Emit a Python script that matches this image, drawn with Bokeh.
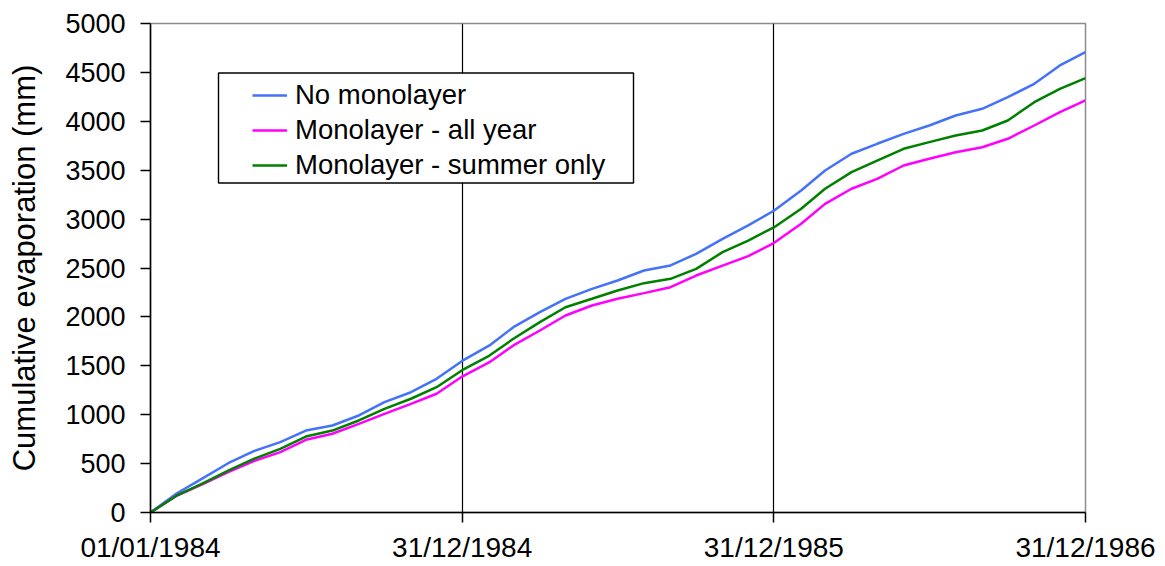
import pandas as pd
from bokeh.plotting import figure
from bokeh.models import (Range1d, FixedTicker, DatetimeTickFormatter, Legend, LegendItem,
                          BoxAnnotation)
from bokeh.embed import file_html
from bokeh.resources import INLINE

# ---- data (monthly) ----
dates = ["1984-01-01", "1984-02-01", "1984-03-01", "1984-04-01", "1984-05-01", "1984-06-01",
         "1984-07-01", "1984-08-01", "1984-09-01", "1984-10-01", "1984-11-01", "1984-12-01",
         "1984-12-31", "1985-02-01", "1985-03-01", "1985-04-01", "1985-05-01", "1985-06-01",
         "1985-07-01", "1985-08-01", "1985-09-01", "1985-10-01", "1985-11-01", "1985-12-01",
         "1985-12-31", "1986-02-01", "1986-03-01", "1986-04-01", "1986-05-01", "1986-06-01",
         "1986-07-01", "1986-08-01", "1986-09-01", "1986-10-01", "1986-11-01", "1986-12-01",
         "1986-12-31"]
no_monolayer = [0, 197, 344, 504, 627, 719, 838, 890, 992, 1128, 1230, 1367, 1550,
                1708, 1895, 2048, 2185, 2287, 2372, 2474, 2526, 2645, 2798, 2935, 3085,
                3292, 3497, 3668, 3770, 3872, 3957, 4059, 4128, 4247, 4383, 4571, 4707]
monolayer_all_year = [0, 174, 286, 412, 525, 617, 743, 805, 907, 1009, 1111, 1214, 1390,
                      1537, 1708, 1861, 2014, 2117, 2185, 2243, 2304, 2423, 2525, 2621, 2755,
                      2952, 3156, 3310, 3412, 3548, 3617, 3684, 3735, 3821, 3957, 4093, 4213]
monolayer_summer = [0, 174, 293, 429, 549, 651, 777, 838, 941, 1060, 1163, 1281, 1455,
                    1605, 1776, 1946, 2099, 2185, 2270, 2345, 2389, 2491, 2662, 2781, 2915,
                    3105, 3310, 3480, 3599, 3719, 3787, 3855, 3906, 4008, 4195, 4332, 4441]
series_names = ["No monolayer", "Monolayer - all year", "Monolayer - summer only"]
series_colors = ["#4472F8", "#FF00FF", "#008000"]
tick_dates = ["1984-01-01", "1984-12-31", "1985-12-31", "1986-12-31"]
y_ticks = list(range(0, 5001, 500))

x = pd.to_datetime(dates)
tick_ms = [pd.Timestamp(d).value // 10**6 for d in tick_dates]

FONT = "Liberation Sans"

p = figure(width=1165, height=566, output_backend="svg", toolbar_location=None,
           x_axis_type="datetime",
           x_range=Range1d(tick_ms[0], tick_ms[-1]), y_range=Range1d(0, 5000),
           min_border_left=150, min_border_right=80, min_border_top=23, min_border_bottom=54)

p.background_fill_color = "white"
p.border_fill_color = "white"
p.outline_line_color = "#8c8c8c"
p.outline_line_width = 1.5

ticker = FixedTicker(ticks=tick_ms)
p.xaxis.ticker = ticker
p.xaxis.formatter = DatetimeTickFormatter(
    milliseconds="%d/%m/%Y", seconds="%d/%m/%Y", minsec="%d/%m/%Y", minutes="%d/%m/%Y",
    hourmin="%d/%m/%Y", hours="%d/%m/%Y", days="%d/%m/%Y", months="%d/%m/%Y", years="%d/%m/%Y")
p.yaxis.ticker = FixedTicker(ticks=y_ticks)

for ax in (p.xaxis[0], p.yaxis[0]):
    ax.axis_line_color = "black"
    ax.axis_line_width = 1.5
    ax.major_tick_line_color = "black"
    ax.major_tick_line_width = 1.5
    ax.major_tick_in = 0
    ax.major_tick_out = 10
    ax.minor_tick_line_color = None
    ax.major_label_text_font = FONT
    ax.major_label_text_color = "black"

p.xaxis.major_label_text_font_size = "28px"
p.xaxis.major_label_standoff = 9
p.yaxis.major_label_text_font_size = "27px"
p.yaxis.major_label_standoff = 15
p.yaxis.axis_label = "Cumulative evaporation (mm)"
p.yaxis.axis_label_text_font = FONT
p.yaxis.axis_label_text_font_size = "31px"
p.yaxis.axis_label_text_font_style = "normal"
p.yaxis.axis_label_text_color = "black"
p.yaxis.axis_label_standoff = 20

p.xgrid.ticker = ticker
p.xgrid.grid_line_color = "black"
p.xgrid.grid_line_width = 1.2
p.ygrid.grid_line_color = None

renderers = []
for vals, col in zip([no_monolayer, monolayer_all_year, monolayer_summer], series_colors):
    r = p.line(x, vals, line_color=col, line_width=2.5)
    renderers.append(r)

# legend frame
box = BoxAnnotation(left=68, right=483, top=439.5, bottom=329.5,
                    left_units="screen", right_units="screen",
                    top_units="screen", bottom_units="screen",
                    fill_color="white", fill_alpha=1.0, line_color="black", line_alpha=1.0,
                    line_width=1.4, level="annotation")
p.add_layout(box)

legend = Legend(items=[LegendItem(label=n, renderers=[r]) for n, r in zip(series_names, renderers)],
                location=(102, 331), padding=0, margin=0, spacing=3,
                glyph_width=35, glyph_height=30, label_height=30, label_standoff=8,
                label_text_font=FONT, label_text_font_size="27.5px", label_text_color="black",
                border_line_color=None, background_fill_alpha=0.0)
p.add_layout(legend)

open("out.html", "w").write(file_html(p, INLINE))
